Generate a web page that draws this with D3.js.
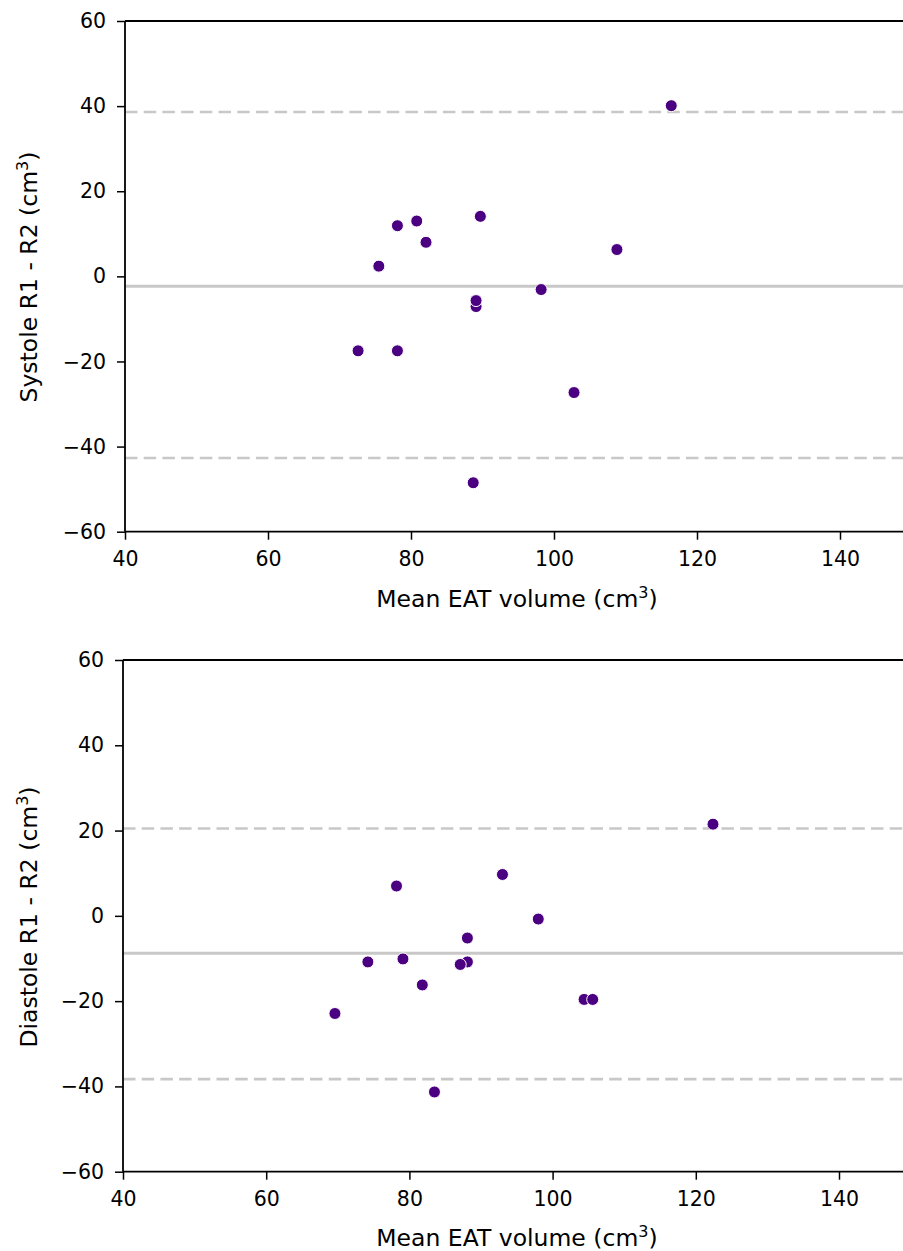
<!DOCTYPE html>
<html>
<head>
<meta charset="utf-8">
<script src="https://cdn.jsdelivr.net/npm/d3@7"></script>
<style>
  html, body { margin: 0; padding: 0; background: #fff; }
  svg { display: block; }
  text { font-family: "DejaVu Sans", sans-serif; fill: #000; }
</style>
</head>
<body>
<svg id="chart" width="903" height="1251"></svg>
<script>
// ---- Data ----
const xTicks = [40, 60, 80, 100, 120, 140];
const yTicks = [-60, -40, -20, 0, 20, 40, 60];

// Systole panel
const sysMean = [72.6, 75.5, 78.1, 78.1, 80.8, 82.1, 88.7, 89.1, 89.1, 89.7, 98.2, 102.8, 108.8, 116.4];
const sysDiff = [-17.5, 2.4, 11.9, -17.5, 13.0, 8.0, -48.5, -7.1, -5.7, 14.1, -3.1, -27.3, 6.3, 40.1];
const sysStats = [-2.3, 38.6, -42.7]; // mean difference, upper LoA, lower LoA

// Diastole panel
const diaMean = [69.6, 74.2, 78.2, 79.1, 81.8, 83.5, 88.1, 87.1, 88.1, 93.0, 98.0, 104.4, 105.6, 122.4];
const diaDiff = [-22.9, -10.8, 7.0, -10.1, -16.2, -41.3, -10.8, -11.4, -5.2, 9.7, -0.75, -19.6, -19.6, 21.5];
const diaStats = [-8.8, 20.5, -38.3];

const xLabel = "Mean EAT volume (cm³)";
const sysLabel = "Systole R1 - R2 (cm³)";
const diaLabel = "Diastole R1 - R2 (cm³)";

// ---- Drawing ----
const svg = d3.select("#chart");
const W = 903;

function addLabel(sel, label) {
  const parts = label.split("³");
  sel.append("tspan").text(parts[0]);
  sel.append("tspan").attr("font-size", 16).attr("dy", -9).text("3");
  sel.append("tspan").attr("dy", 9).text(parts[1]);
}

function panel(cfg) {
  const x = d3.scaleLinear().domain([40, 150]).range([cfg.left, cfg.left + 110 * cfg.xUnit]);
  const y = d3.scaleLinear().domain([-60, 60]).range([cfg.bottom, cfg.top]);
  const g = svg.append("g");

  const clipId = "clip" + cfg.id;
  svg.append("clipPath").attr("id", clipId)
    .append("rect").attr("x", cfg.left).attr("y", cfg.top - 8)
    .attr("width", W - cfg.left).attr("height", cfg.bottom - cfg.top + 16);

  const plot = g.append("g").attr("clip-path", `url(#${clipId})`);

  // limits of agreement (dashed) and mean (solid)
  [cfg.stats[1], cfg.stats[2]].forEach(v => {
    plot.append("line")
      .attr("x1", x(40)).attr("x2", W)
      .attr("y1", y(v)).attr("y2", y(v))
      .attr("stroke", "#c8c8c8").attr("stroke-width", 2.6)
      .attr("stroke-dasharray", "12.5,6.2");
  });
  plot.append("line")
    .attr("x1", x(40)).attr("x2", W)
    .attr("y1", y(cfg.stats[0])).attr("y2", y(cfg.stats[0]))
    .attr("stroke", "#c8c8c8").attr("stroke-width", 3);

  // points
  plot.selectAll("circle").data(cfg.xs.map((d, i) => [d, cfg.ys[i]]))
    .enter().append("circle")
    .attr("cx", d => x(d[0])).attr("cy", d => y(d[1]))
    .attr("r", 6)
    .attr("fill", "#4b0082")
    .attr("stroke", "#ffffff").attr("stroke-width", 1);

  // axes
  const xAxis = d3.axisBottom(x).tickValues(xTicks).tickSize(8).tickPadding(12).tickFormat(d3.format("d"));
  const yAxis = d3.axisLeft(y).tickValues(yTicks).tickSize(8).tickPadding(11)
    .tickFormat(d => d < 0 ? "\u2212" + Math.abs(d) : String(d));

  const gx = g.append("g").attr("transform", `translate(0,${cfg.bottom})`).call(xAxis);
  const gy = g.append("g").attr("transform", `translate(${cfg.left},0)`).call(yAxis);
  [gx, gy].forEach(a => {
    a.select(".domain").remove();
    a.selectAll(".tick line").attr("stroke", "#000").attr("stroke-width", 1.5);
    a.selectAll(".tick text").attr("font-size", 20.5).attr("fill", "#000")
      .style("font-family", '"DejaVu Sans", sans-serif');
  });

  // spines
  g.append("line").attr("x1", cfg.left).attr("x2", cfg.left).attr("y1", cfg.top).attr("y2", cfg.bottom)
    .attr("stroke", "#000").attr("stroke-width", 1.8);
  g.append("line").attr("x1", cfg.left).attr("x2", W).attr("y1", cfg.top).attr("y2", cfg.top)
    .attr("stroke", "#000").attr("stroke-width", 1.8);
  g.append("line").attr("x1", cfg.left).attr("x2", W).attr("y1", cfg.bottom).attr("y2", cfg.bottom)
    .attr("stroke", "#000").attr("stroke-width", 1.8);

  // labels
  const xl = g.append("text")
    .attr("x", cfg.xLabelX).attr("y", cfg.xLabelY)
    .attr("text-anchor", "middle").attr("font-size", 23.5);
  addLabel(xl, xLabel);

  const yl = g.append("text")
    .attr("transform", `translate(${cfg.yLabelX},${cfg.yLabelY}) rotate(-90)`)
    .attr("text-anchor", "middle").attr("font-size", 23.5);
  addLabel(yl, cfg.yLabel);
}

panel({ id: 1, left: 125, xUnit: 7.15, top: 21, bottom: 531.7,
  xs: sysMean, ys: sysDiff, stats: sysStats, yLabel: sysLabel,
  xLabelX: 517, xLabelY: 607, yLabelX: 37, yLabelY: 277 });

panel({ id: 2, left: 123, xUnit: 7.16, top: 660, bottom: 1171.7,
  xs: diaMean, ys: diaDiff, stats: diaStats, yLabel: diaLabel,
  xLabelX: 517, xLabelY: 1246, yLabelX: 37, yLabelY: 917 });
</script>
</body>
</html>
